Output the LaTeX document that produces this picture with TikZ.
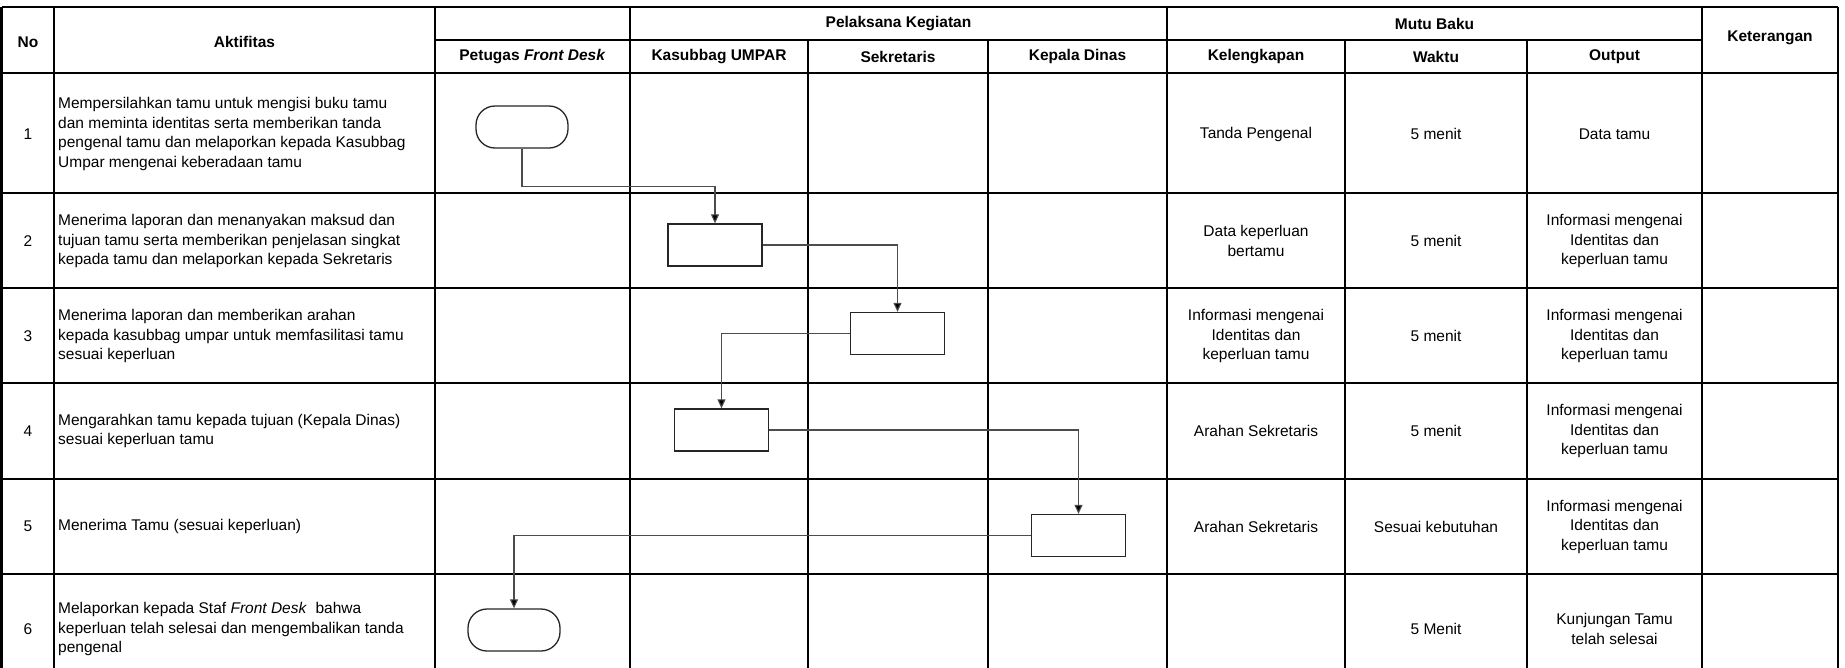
\documentclass[tikz,border=0pt]{standalone}
\usepackage{fontspec}
\setmainfont{Liberation Sans}
\usetikzlibrary{arrows.meta}
\begin{document}
\begin{tikzpicture}[x=1pt,y=-1pt,
  grid/.style={line width=2.4pt},
  txt/.style={font=\fontsize{15.5}{19.5}\selectfont, inner sep=0pt, align=center},
  hdr/.style={font=\fontsize{15.5}{19.5}\selectfont\bfseries, inner sep=0pt, align=center},
  act/.style={txt, anchor=west, align=left},
  proc/.style={draw=black!85, line width=1.3pt, minimum width=94pt, minimum height=42pt, inner sep=0pt, fill=white},
  term/.style={proc, rounded corners=19pt, minimum width=92pt},
  conn/.style={draw=black!70, line width=1.1pt, -{Triangle[length=9pt,width=8pt,fill=black]}}
]
\fill[white] (0,0) rectangle (1845,667);
\useasboundingbox (0,0) rectangle (1845,667);
% grid
\draw[grid] (1.5,7) -- (1838,7);
\draw[grid] (435,40) -- (1702,40);
\foreach \y in {73,193,288,383,479,574} \draw[grid] (1.5,\y) -- (1838,\y);
\foreach \x in {1.5,54,435,630,1167,1702,1838} \draw[grid] (\x,7) -- (\x,668);
\foreach \x in {808,988,1345,1527} \draw[grid] (\x,40) -- (\x,668);
% headers
\node[hdr] (hNo) at (28,42) {No};
\node[hdr] (hAkt) at (244.5,42) {Aktifitas};
\node[hdr] (hPel) at (898.5,23.5) {Pelaksana Kegiatan};
\node[hdr] (hMutu) at (1434.5,23.5) {Mutu Baku};
\node[hdr] (hKet) at (1770,38) {Keterangan};
\node[hdr] (hPet) at (532.5,56.5) {Petugas \textit{Front Desk}};
\node[hdr] (hKas) at (719,56.5) {Kasubbag UMPAR};
\node[hdr] (hSek) at (898,56.5) {Sekretaris};
\node[hdr] (hKep) at (1077.5,56.5) {Kepala Dinas};
\node[hdr] (hKel) at (1256,56.5) {Kelengkapan};
\node[hdr] (hWak) at (1436,56.5) {Waktu};
\node[hdr] (hOut) at (1614.5,56.5) {Output};
% numbers
\node[txt] (n1) at (28,134) {1};
\node[txt] (n2) at (28,241) {2};
\node[txt] (n3) at (28,336) {3};
\node[txt] (n4) at (28,431) {4};
\node[txt] (n5) at (28,526.5) {5};
\node[txt] (n6) at (28,629) {6};
% activities
\node[act] (a1) at (58,134) {Mempersilahkan tamu untuk mengisi buku tamu\\dan meminta identitas serta memberikan tanda\\pengenal tamu dan melaporkan kepada Kasubbag\\Umpar mengenai keberadaan tamu};
\node[act] (a2) at (58,241) {Menerima laporan dan menanyakan maksud dan\\tujuan tamu serta memberikan penjelasan singkat\\kepada tamu dan melaporkan kepada Sekretaris};
\node[act] (a3) at (58,336) {Menerima laporan dan memberikan arahan\\kepada kasubbag umpar untuk memfasilitasi tamu\\sesuai keperluan};
\node[act] (a4) at (58,431) {Mengarahkan tamu kepada tujuan (Kepala Dinas)\\sesuai keperluan tamu};
\node[act] (a5) at (58,526.5) {Menerima Tamu (sesuai keperluan)};
\node[act] (a6) at (58,629) {Melaporkan kepada Staf \textit{Front Desk}\ \ bahwa\\keperluan telah selesai dan mengembalikan tanda\\pengenal};
% kelengkapan
\node[txt] (k1) at (1256,134) {Tanda Pengenal};
\node[txt] (k2) at (1256,241) {Data keperluan\\bertamu};
\node[txt] (k3) at (1256,336) {Informasi mengenai\\Identitas dan\\keperluan tamu};
\node[txt] (k4) at (1256,431) {Arahan Sekretaris};
\node[txt] (k5) at (1256,526.5) {Arahan Sekretaris};
% waktu
\node[txt] (w1) at (1436,134) {5 menit};
\node[txt] (w2) at (1436,241) {5 menit};
\node[txt] (w3) at (1436,336) {5 menit};
\node[txt] (w4) at (1436,431) {5 menit};
\node[txt] (w5) at (1436,526.5) {Sesuai kebutuhan};
\node[txt] (w6) at (1436,629) {5 Menit};
% output
\node[txt] (o1) at (1614.5,134) {Data tamu};
\node[txt] (o2) at (1614.5,241) {Informasi mengenai\\Identitas dan\\keperluan tamu};
\node[txt] (o3) at (1614.5,336) {Informasi mengenai\\Identitas dan\\keperluan tamu};
\node[txt] (o4) at (1614.5,431) {Informasi mengenai\\Identitas dan\\keperluan tamu};
\node[txt] (o5) at (1614.5,526.5) {Informasi mengenai\\Identitas dan\\keperluan tamu};
\node[txt] (o6) at (1614.5,629) {Kunjungan Tamu\\telah selesai};
% flow shapes
\node[term] (p1) at (522,127) {};
\node[proc] (b2) at (715,245) {};
\node[proc] (b3) at (897.5,333.5) {};
\node[proc] (b4) at (721.5,430) {};
\node[proc] (b5) at (1078.5,535.5) {};
\node[term] (p6) at (514,630) {};
% connectors
\draw[conn] (p1.south) -- ++(0,38) -| (b2.north);
\draw[conn] (b2.east) -| (b3.north);
\draw[conn] (b3.west) -| (b4.north);
\draw[conn] (b4.east) -| (b5.north);
\draw[conn] (b5.west) -| (p6.north);
\end{tikzpicture}
\end{document}
